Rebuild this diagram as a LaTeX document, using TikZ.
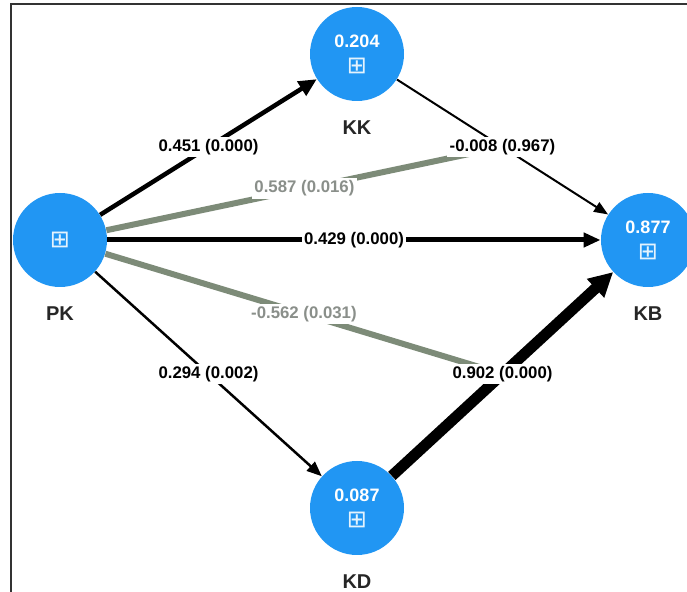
\documentclass[tikz,border=0pt]{standalone}
\usepackage{fontspec}
\setmainfont{Liberation Sans}
\newfontfamily\plusfont{DejaVu Sans}
\usepackage{xcolor}
\usepackage{tikz}
\usetikzlibrary{arrows.meta,positioning,calc}
\definecolor{lvblue}{HTML}{2196F3}
\definecolor{modgrey}{HTML}{7D8B78}
\definecolor{modtext}{HTML}{8A8F8A}
\definecolor{framegrey}{HTML}{333333}
\newcommand{\bplus}{{\plusfont\mdseries\fontsize{12}{12}\selectfont\color{white!88!lvblue}⊞}}

\begin{document}
\begin{tikzpicture}[
    x=0.5pt, y=-0.5pt,
    latent/.style={circle, fill=lvblue, minimum size=47pt, inner sep=0pt,
                   text=white, align=center, font=\bfseries\fontsize{9}{13}\selectfont},
    vname/.style={font=\bfseries\fontsize{10}{12}\selectfont, text=black!85, inner sep=0pt},
    coef/.style={fill=white, font=\bfseries\fontsize{8.4}{10}\selectfont, inner sep=1.2pt},
    modcoef/.style={coef, text=modtext},
    link/.style={draw=black},
    modline/.style={draw=modgrey, line width=3pt, shorten >=12pt},
]
\useasboundingbox (0,0) rectangle (687,592);
\clip (0,0) rectangle (687,592);
\draw[framegrey, line width=0.8pt] (11,592) -- (11,4) -- (687,4);

\node[latent] (pk) at (60,240) {\bplus};
\node[latent] (kk) at (357,54) {0.204\\\bplus};
\node[latent] (kb) at (648,240) {0.877\\\bplus};
\node[latent] (kd) at (357,508) {0.087\\\bplus};
\node[vname, below=9.5pt of pk] (pkname) {PK};
\node[vname, below=9.5pt of kk] (kkname) {KK};
\node[vname, below=9.5pt of kb] (kbname) {KB};
\node[vname, below=9.5pt of kd] (kdname) {KD};

\coordinate (mkk) at ($(kk)!0.5!(kb)$);
\coordinate (mkd) at ($(kd)!0.5!(kb)$);

% moderating effects
\draw[modline] (pk) -- node[modcoef, pos=0.5] (m1) {0.587 (0.016)} (mkk);
\draw[modline] (pk) -- node[modcoef, pos=0.5] (m2) {-0.562 (0.031)} (mkd);

% paths
\draw[link, line width=2.25pt, -{Triangle[length=9pt, width=8pt]}]
    (pk) -- node[coef] (c1) {0.451 (0.000)} (kk);
\draw[link, line width=1pt, -{Triangle[length=7pt, width=5.5pt]}]
    (kk) -- node[coef] (c2) {-0.008 (0.967)} (kb);
\draw[link, line width=2.5pt, -{Triangle[length=8.5pt, width=7pt]}]
    (pk) -- node[coef] (c3) {0.429 (0.000)} (kb);
\draw[link, line width=1.25pt, -{Triangle[length=7.5pt, width=6pt]}]
    (pk) -- node[coef] (c4) {0.294 (0.002)} (kd);
\draw[link, line width=5.5pt, -{Triangle[length=12pt, width=12pt]}]
    (kd) -- node[coef] (c5) {0.902 (0.000)} (kb);
\end{tikzpicture}
\end{document}
